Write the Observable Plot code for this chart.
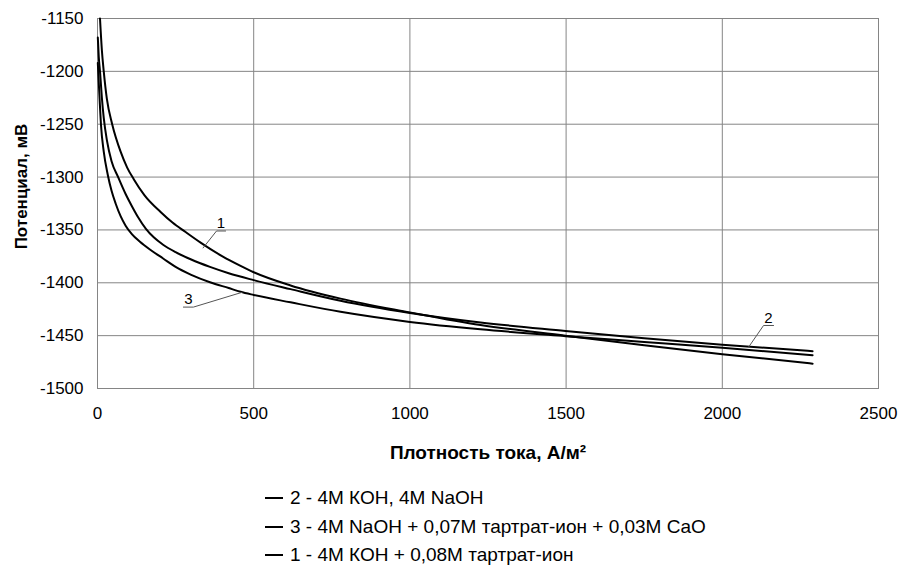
<!DOCTYPE html>
<html>
<head>
<meta charset="utf-8">
<script src="https://cdn.jsdelivr.net/npm/d3@7"></script>
<script src="https://cdn.jsdelivr.net/npm/@observablehq/plot@0.6"></script>
<style>
  body { margin: 0; background: #fff; font-family: "Liberation Sans", Arial, sans-serif; }
  #legend { margin: 14px 0 0 265px; }
  .item { display: flex; align-items: center; height: 28.5px; font-size: 19px; color: #000; white-space: nowrap; }
  .swatch { width: 18px; height: 2px; background: #000; margin-right: 7px; flex: none; }
</style>
</head>
<body>
<div id="chart"></div>
<div id="legend"></div>
<script>
// Polarisation curves: potential (mV) vs current density (A/m²)
const xTicks = [0, 500, 1000, 1500, 2000, 2500];
const yTicks = [-1150, -1200, -1250, -1300, -1350, -1400, -1450, -1500];

// 1 - 4M KOH + 0.08M tartrate
const current1 = [8, 14, 20, 30, 47, 74, 95, 116, 150, 202, 240, 282, 330, 400, 458, 500, 618, 778, 1000, 1226, 1498, 1750, 2000, 2289];
const potential1 = [-1150, -1180, -1200, -1226, -1250, -1276, -1291, -1302, -1317, -1333, -1343, -1352, -1362, -1375, -1384, -1390, -1402.5, -1415, -1428, -1440, -1450, -1459, -1467.5, -1476.5];

// 2 - 4M KOH, 4M NaOH
const current2 = [1, 4, 8, 14, 20, 30, 45, 66, 90, 111, 130, 155, 180, 210, 250, 300, 360, 420, 500, 618, 778, 1000, 1226, 1498, 1750, 2000, 2289];
const potential2 = [-1168, -1186, -1200, -1225, -1244, -1265, -1285, -1300, -1316, -1328, -1338, -1349, -1357, -1364, -1371, -1378, -1385, -1391, -1397.5, -1406, -1417, -1428.5, -1437.5, -1445.5, -1452.5, -1458.5, -1464.7];

// 3 - 4M NaOH + 0.07M tartrate + 0.03M CaO
const current3 = [1, 4, 7, 11, 20, 33, 45, 58, 74, 90, 110, 135, 170, 210, 250, 300, 360, 420, 458, 500, 618, 778, 1000, 1226, 1498, 1750, 2000, 2289];
const potential3 = [-1192, -1210, -1228, -1250, -1276, -1298, -1313, -1325, -1337, -1346, -1354, -1361, -1369, -1377, -1385, -1392.5, -1399.5, -1405, -1408.5, -1411.5, -1418.5, -1427.5, -1437, -1444, -1450.5, -1456, -1461.5, -1468.5];

// curve numbers with their underline + leader (underline end, underline start, point on curve)
const tagNames = ["1", "3", "2"];
const tagX = [395, 291, 2148];
const tagY = [-1348.5, -1420.5, -1438.5];
const leaderX = [[410, 381, 338], [275, 307, 463], [2164, 2132, 2085]];
const leaderY = [[-1351, -1351, -1367], [-1423, -1423, -1409], [-1440.4, -1440.4, -1460.5]];

const legendLabels = [
  "2 - 4М КОН, 4М NaOH",
  "3 - 4М NaOH + 0,07М тартрат-ион + 0,03М CaO",
  "1 - 4М КОН + 0,08М тартрат-ион"
];

const rows = [];
[[current1, potential1, "1"], [current2, potential2, "2"], [current3, potential3, "3"]].forEach(([xs, ys, s]) =>
  xs.forEach((x, i) => rows.push({current: x, potential: ys[i], series: s}))
);
const leaderRows = [];
leaderX.forEach((xs, k) => xs.forEach((x, i) => leaderRows.push({x, y: leaderY[k][i], tag: tagNames[k]})));
const tagRows = tagNames.map((t, i) => ({text: t, x: tagX[i], y: tagY[i]}));

const chart = Plot.plot({
  width: 898,
  height: 470,
  marginTop: 18,
  marginLeft: 97,
  marginRight: 20,
  marginBottom: 82,
  style: {fontFamily: "Liberation Sans, Arial, sans-serif", fontSize: "17px", color: "#000", background: "#fff"},
  x: {domain: [0, 2500], ticks: xTicks, tickSize: 0, tickPadding: 18, label: null, tickFormat: d => String(d)},
  y: {domain: [-1500, -1150], ticks: yTicks, tickSize: 0, tickPadding: 14, label: null, tickFormat: d => String(d)},
  marks: [
    Plot.ruleX(xTicks, {stroke: "#858585", strokeWidth: 1}),
    Plot.ruleY(yTicks, {stroke: "#858585", strokeWidth: 1}),
    Plot.frame({stroke: "#858585"}),
    Plot.line(rows, {x: "current", y: "potential", z: "series", stroke: "#000", strokeWidth: 2, curve: "monotone-x"}),
    Plot.line(leaderRows, {x: "x", y: "y", z: "tag", stroke: "#555", strokeWidth: 1}),
    Plot.text(tagRows, {x: "x", y: "y", text: "text", lineAnchor: "bottom", fontSize: 15, fill: "#000"}),
    Plot.text(["Потенциал, мВ"], {frameAnchor: "left", textAnchor: "middle", lineAnchor: "middle", rotate: -90, dx: -76, dy: -17, fontWeight: "bold", fontSize: 17, fill: "#000"}),
    Plot.text(["Плотность тока, А/м²"], {frameAnchor: "bottom", textAnchor: "middle", lineAnchor: "middle", dy: 64, fontWeight: "bold", fontSize: 19, fill: "#000"})
  ]
});
document.getElementById("chart").append(chart);

const legend = document.getElementById("legend");
legendLabels.forEach(label => {
  const item = document.createElement("div");
  item.className = "item";
  const sw = document.createElement("span");
  sw.className = "swatch";
  const tx = document.createElement("span");
  tx.textContent = label;
  item.append(sw, tx);
  legend.append(item);
});
</script>
</body>
</html>
